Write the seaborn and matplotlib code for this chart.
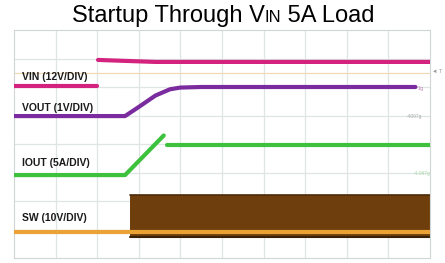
import numpy as np
import matplotlib
matplotlib.use("Agg")
import matplotlib.pyplot as plt
import pandas as pd
import seaborn as sns

# --- DATA (divisions: 10 horizontal x 8 vertical) ---
# each trace is given as segments (seg id) so jumps are not joined
vin_seg = [0, 0, 1, 1, 1, 1]
vin_t = [0, 2.0, 2.02, 2.4, 3.4, 10]
vin_v = [6.04, 6.04, 6.95, 6.93, 6.88, 6.88]

vout_seg = [0, 0, 0, 0, 0, 0, 0, 0]
vout_t = [0, 2.67, 3.0, 3.4, 3.75, 4.0, 4.5, 9.65]
vout_v = [4.98, 4.98, 5.3, 5.7, 5.92, 5.98, 6.0, 6.0]

iout_seg = [0, 0, 0, 1, 1]
iout_t = [0, 2.67, 3.6, 3.68, 10]
iout_v = [2.91, 2.91, 4.3, 3.96, 3.96]

sw_seg = [0, 0]
sw_t = [0, 10]
sw_v = [0.91, 0.91]
sw_band_t = [2.79, 10]
sw_band_top = [2.21, 2.21]
sw_band_bot = [0.74, 0.74]

trig_level = 6.49

labels = ["VIN (12V/DIV)", "VOUT (1V/DIV)", "IOUT (5A/DIV)", "SW (10V/DIV)"]
label_y = [6.35, 5.27, 3.33, 1.4]

# Colors
C_VIN = '#d4237f'
C_VOUT = '#7a2b9e'
C_IOUT = '#3ec23e'
C_SWBAND = '#6e3f0c'
C_SW = '#eba234'

sns.set_style("white")
plt.rcParams['font.family'] = ['Liberation Sans', 'DejaVu Sans']

fig = plt.figure(figsize=(4.45, 2.63), dpi=100)
ax = fig.add_axes([14 / 445, 5 / 263, 416 / 445, 228 / 263])

# grid like a scope screen
for gx in range(1, 10):
    ax.axvline(gx, color='#dfe4e4', lw=0.9, zorder=0)
for gy in range(1, 8):
    ax.axhline(gy, color='#dfe4e4', lw=0.9, zorder=0)
ax.axhline(trig_level, color='#f3d9b5', lw=0.9, zorder=1)

# switching node band
ax.fill_between(sw_band_t, sw_band_bot, sw_band_top, color=C_SWBAND, lw=0, zorder=2)
ax.plot(sw_band_t, sw_band_bot, color='#3a2206', lw=1.5, zorder=2)
ax.plot(sw_band_t, sw_band_top, color='#4a2a08', lw=1.2, zorder=2)

traces = [
    (vin_seg, vin_t, vin_v, C_VIN),
    (vout_seg, vout_t, vout_v, C_VOUT),
    (iout_seg, iout_t, iout_v, C_IOUT),
    (sw_seg, sw_t, sw_v, C_SW),
]
for seg, t, v, c in traces:
    df = pd.DataFrame({'seg': seg, 't': t, 'v': v})
    sns.lineplot(data=df, x='t', y='v', units='seg', estimator=None, sort=False,
                 color=c, lw=3.0, ax=ax, zorder=3)

for lab, ly in zip(labels, label_y):
    ax.text(0.2, ly, lab, fontsize=7.5, fontweight='bold', color='#1a1a1a',
            ha='left', va='center', zorder=4)

# small marker texts at right edge
ax.text(10.05, 6.55, '◄ T', fontsize=4, color='#999999', va='center', clip_on=False)
ax.text(9.7, 5.95, '1g', fontsize=4, color='#c58ac0', va='center')
ax.text(9.45, 4.95, '-4097g', fontsize=3.5, color='#aaaaaa', va='center')
ax.text(9.6, 2.95, '-4.097g', fontsize=3.5, color='#a8d8a8', va='center')

ax.set_xlim(0, 10)
ax.set_ylim(0, 8)
ax.set_xticks([])
ax.set_yticks([])
ax.set_xlabel('')
ax.set_ylabel('')
for s in ax.spines.values():
    s.set_color('#d0d6d6')
    s.set_linewidth(0.8)

# title with small-caps "IN"
fig.canvas.draw()
r = fig.canvas.get_renderer()
pieces = [("Startup Through V", 17), ("IN", 12), (" 5A Load", 17)]
texts = []
for s, fs in pieces:
    texts.append(fig.text(0, 1 - 22 / 263, s, fontsize=fs, color='black', ha='left', va='baseline'))
widths = [t.get_window_extent(r).width for t in texts]
total = sum(widths)
x0 = 223 - total / 2
for t, w in zip(texts, widths):
    t.set_x(x0 / 445)
    x0 += w

fig.savefig('out.png', dpi=100)
